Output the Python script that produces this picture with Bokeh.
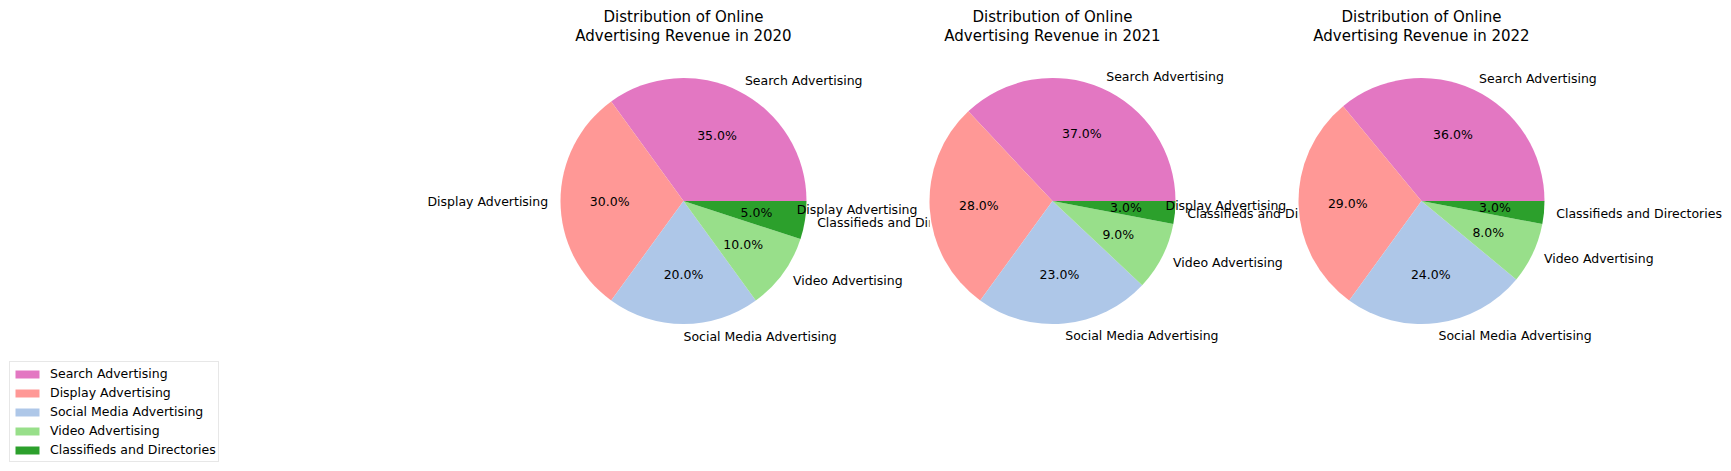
import math
from bokeh.plotting import figure
from bokeh.models import Range1d, Legend, LegendItem, ColumnDataSource
from bokeh.core.properties import value
from bokeh.embed import file_html
from bokeh.resources import INLINE

# ---- data ----
categories = ["Search Advertising", "Display Advertising", "Social Media Advertising",
              "Video Advertising", "Classifieds and Directories"]
years = ["2020", "2021", "2022"]
share_2020 = [35, 30, 20, 10, 5]
share_2021 = [37, 28, 23, 9, 3]
share_2022 = [36, 29, 24, 8, 3]
colors = ["#e377c2", "#ff9896", "#aec7e8", "#98df8a", "#2ca02c"]

# ---- layout (pixel-like data units; y measured up from bottom of window) ----
W, H = 1731, 471
FONT_NAME = "DejaVu Sans"
FONT = value(FONT_NAME)
LABEL_SIZE = "12.5px"
TITLE_SIZE = "15px"
centers_x = [683, 1052, 1421]
center_y = H - 200.5
radius = 123

p = figure(width=W, height=H, x_range=Range1d(0, W), y_range=Range1d(0, H),
           output_backend="svg", toolbar_location=None, min_border=0,
           x_axis_location=None, y_axis_location=None)
p.grid.visible = False
p.outline_line_color = None
p.background_fill_color = "white"

first_renderer = None
for k, (year, shares) in enumerate(zip(years, [share_2020, share_2021, share_2022])):
    cx = centers_x[k]
    cy = center_y
    # axes background of later subplots covers text of the earlier one
    if k > 0:
        p.quad(left=[cx - radius], right=[cx + radius], bottom=[cy - radius], top=[cy + radius],
               fill_color="white", line_color=None)
    total = float(sum(shares))
    starts, ends = [], []
    acc = 0.0
    for s in shares:
        starts.append(2 * math.pi * acc / total)
        acc += s
        ends.append(2 * math.pi * acc / total)
    src = ColumnDataSource(dict(start=starts, end=ends, color=colors, cat=categories))
    r = p.wedge(x=cx, y=cy, radius=radius, start_angle="start", end_angle="end",
                direction="anticlock", fill_color="color", line_color=None, source=src)
    if first_renderer is None:
        first_renderer = r

    lx, ly, la, px, py, pt = [], [], [], [], [], []
    for s, a0, a1, cat in zip(shares, starts, ends, categories):
        m = 0.5 * (a0 + a1)
        x = 1.1 * radius * math.cos(m)
        lx.append(cx + x)
        ly.append(cy + 1.1 * radius * math.sin(m))
        la.append("left" if x > -1e-6 else "right")
        px.append(cx + 0.6 * radius * math.cos(m))
        py.append(cy + 0.6 * radius * math.sin(m))
        pt.append("%.1f%%" % (100.0 * s / total))
    p.text(x=lx, y=ly, text=categories, text_align=la, text_baseline="middle",
           text_font=FONT, text_font_size=LABEL_SIZE, text_color="black")
    p.text(x=px, y=py, text=pt, text_align="center", text_baseline="middle",
           text_font=FONT, text_font_size=LABEL_SIZE, text_color="black")

    p.text(x=[cx, cx], y=[H - 16, H - 35],
           text=["Distribution of Online", "Advertising Revenue in " + year],
           text_align="center", text_baseline="middle",
           text_font=FONT, text_font_size=TITLE_SIZE, text_color="black")

items = [LegendItem(label=c, renderers=[first_renderer], index=i) for i, c in enumerate(categories)]
legend = Legend(items=items, location=(9, 9), orientation="vertical",
                label_text_font=FONT_NAME, label_text_font_size=LABEL_SIZE,
                label_text_color="black",
                glyph_width=30, glyph_height=10, label_height=19, spacing=0,
                label_standoff=8, padding=2, margin=0,
                border_line_color="#d0d0d0", border_line_width=1,
                background_fill_color="white", background_fill_alpha=0.8)
p.add_layout(legend)

open("out.html", "w").write(file_html(p, INLINE))
